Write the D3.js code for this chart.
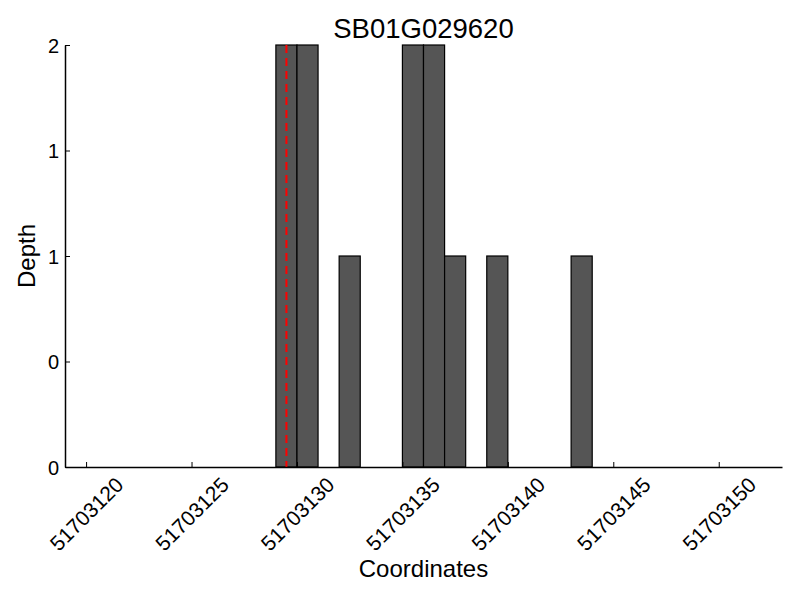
<!DOCTYPE html>
<html>
<head>
<meta charset="utf-8">
<script src="https://cdn.jsdelivr.net/npm/d3@7"></script>
<style>
  body { margin: 0; background: #fff; }
  text { font-family: "Liberation Sans", Arial, Helvetica, sans-serif; fill: #000; }
</style>
</head>
<body>
<svg id="chart" width="800" height="600"></svg>
<script>
const title = "SB01G029620";
const positions = [51703129, 51703130, 51703132, 51703135, 51703136, 51703137, 51703139, 51703143];
const depths = [2, 2, 1, 2, 2, 1, 1, 1];
const xTicks = [51703120, 51703125, 51703130, 51703135, 51703140, 51703145, 51703150];
const yTicks = [0, 0.5, 1, 1.5, 2];
const yTickLabels = ["0", "0", "1", "1", "2"];
const xDomain = [51703119, 51703153];
const yDomain = [0, 2];
const markerPos = 51703129.5;

const svg = d3.select("#chart");
const mLeft = 65, mRight = 782, mTop = 45, mBottom = 467;

const x = d3.scaleLinear().domain(xDomain).range([mLeft, mRight]);
const y = d3.scaleLinear().domain(yDomain).range([mBottom, mTop]);

// bars
svg.append("g").selectAll("rect")
  .data(positions.map((p, i) => ({p, d: depths[i]})))
  .join("rect")
  .attr("x", d => x(d.p))
  .attr("width", d => x(d.p + 1) - x(d.p))
  .attr("y", d => y(d.d))
  .attr("height", d => y(0) - y(d.d))
  .attr("fill", "#555555")
  .attr("stroke", "#000")
  .attr("stroke-width", 1.2);

// red dashed marker
svg.append("line")
  .attr("x1", x(markerPos)).attr("x2", x(markerPos))
  .attr("y1", y(yDomain[1])).attr("y2", y(0))
  .attr("stroke", "red").attr("stroke-width", 2)
  .attr("stroke-dasharray", "8,5");

// y axis
const yAxis = d3.axisLeft(y).tickValues(yTicks)
  .tickFormat((d, i) => yTickLabels[i])
  .tickSizeInner(-5).tickSizeOuter(0).tickPadding(6);
const gy = svg.append("g").attr("transform", `translate(${mLeft},0)`).call(yAxis);
gy.select(".domain").attr("stroke-width", 1.5);
gy.selectAll("text").style("font-size", "20px").attr("dy", "0.35em");

// x axis
const xAxis = d3.axisBottom(x).tickValues(xTicks)
  .tickFormat(d3.format("d"))
  .tickSizeInner(-5).tickSizeOuter(0);
const gx = svg.append("g").attr("transform", `translate(0,${mBottom})`).call(xAxis);
gx.select(".domain").attr("stroke-width", 1.5);
gx.selectAll(".tick text")
  .style("font-size", "21px")
  .attr("text-anchor", "middle")
  .attr("dy", "0.35em")
  .attr("y", 47)
  .attr("transform", "rotate(-45 0 47)");

// title
svg.append("text").attr("x", (mLeft + mRight) / 2).attr("y", 38)
  .attr("text-anchor", "middle").style("font-size", "27.5px").text(title);

// axis labels
svg.append("text").attr("x", (mLeft + mRight) / 2).attr("y", 577)
  .attr("text-anchor", "middle").style("font-size", "24px").text("Coordinates");
svg.append("text").attr("transform", `translate(35,${(mTop + mBottom) / 2}) rotate(-90)`)
  .attr("text-anchor", "middle").style("font-size", "24px").text("Depth");
</script>
</body>
</html>
